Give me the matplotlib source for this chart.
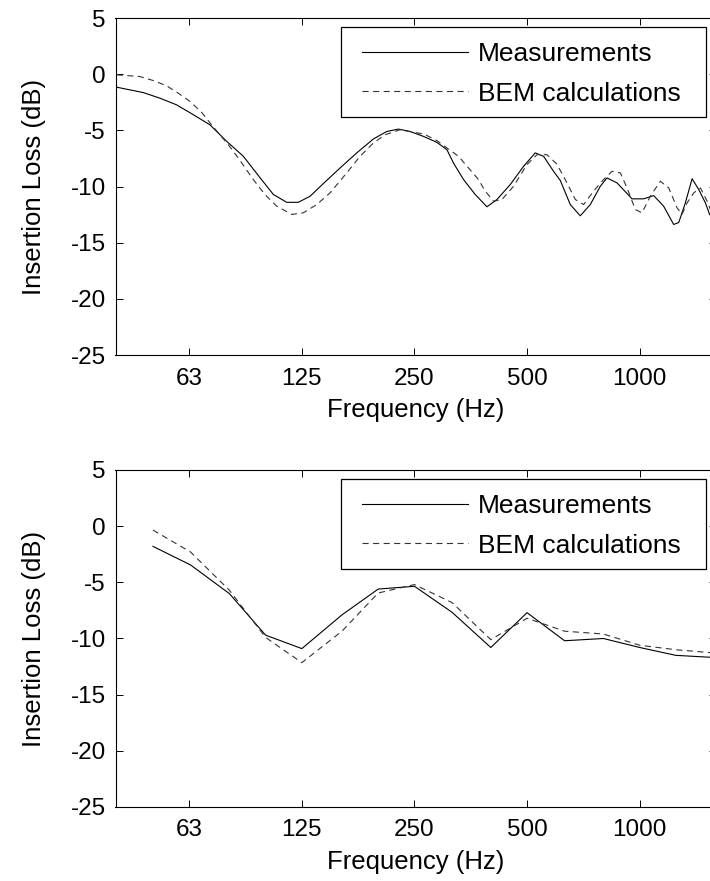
import matplotlib
matplotlib.use('Agg')
import matplotlib.pyplot as plt
from matplotlib.patches import Rectangle
from matplotlib.ticker import FixedLocator, FixedFormatter, NullLocator

plt.rcParams['font.family'] = ['Liberation Sans', 'DejaVu Sans']

# Upper panel: narrow-band results
top_freq_meas = [40, 42.5, 47.1, 52.2, 57.8, 64.1, 71.0, 78.7, 87.2, 96.6,
                 104.9, 113.9, 122.3, 131.5, 142.7, 158.2, 175.3, 194.2, 210.9, 226.5,
                 243.4, 264.3, 287.0, 305.3, 317.9, 338.2, 363.4, 390.6, 415.4, 450.9,
                 489.3, 525.9, 553.5, 588.7, 613.5, 652.5, 693.9, 738.0, 784.9, 817.9,
                 870.0, 954.3, 1025, 1090, 1159, 1233, 1272, 1325, 1381, 1439,
                 1499, 1539, 1600]
top_meas = [-1.15, -1.33, -1.63, -2.13, -2.72, -3.6, -4.5, -5.97, -7.3, -9.2,
            -10.7, -11.4, -11.4, -10.86, -9.73, -8.34, -7.0, -5.76, -5.09, -4.88,
            -5.09, -5.53, -6.06, -6.71, -7.9, -9.37, -10.7, -11.8, -11.15, -9.82,
            -8.2, -7.0, -7.3, -8.64, -9.45, -11.6, -12.6, -11.6, -9.97, -9.23,
            -9.67, -11.09, -11.09, -10.8, -11.74, -13.37, -13.2, -11.45, -9.3, -10.26,
            -11.45, -12.5, -12.8]

top_freq_bem = [40, 46.1, 50.1, 54.4, 58.4, 62.8, 67.5, 71.7, 79.5, 84.5,
                92.7, 99.6, 107.1, 117.5, 126.2, 137.0, 148.7, 164.8, 178.9, 194.2,
                208.7, 228.9, 248.5, 264.3, 287.0, 305.3, 327.9, 348.7, 370.8, 386.5,
                406.8, 428.4, 460.1, 499.7, 531.4, 565.1, 601.0, 639.3, 673.0, 708.1,
                753.1, 801.1, 843.7, 887.9, 925.3, 973.8, 1014.8, 1068, 1136, 1196,
                1259, 1298, 1339, 1395, 1454, 1515, 1546, 1600]
top_bem = [-0.05, -0.2, -0.56, -1.03, -1.68, -2.42, -3.4, -4.5, -6.27, -7.45,
           -9.37, -10.7, -11.74, -12.48, -12.33, -11.6, -10.56, -8.78, -7.3, -6.12,
           -5.38, -4.94, -5.17, -5.3, -5.9, -6.56, -7.3, -8.34, -9.37, -10.4,
           -11.3, -11.15, -9.97, -8.04, -7.16, -7.16, -8.0, -9.67, -11.15, -11.6,
           -10.4, -9.37, -8.64, -8.78, -10.12, -12.04, -12.33, -10.86, -9.52, -10.12,
           -11.89, -12.48, -11.45, -10.56, -10.12, -11.3, -12.04, -12.5]

# Lower panel: third-octave bands
band_freq = [50, 63, 80, 100, 125, 160, 200, 250, 315, 400,
             500, 630, 800, 1000, 1250, 1600]
bottom_meas = [-1.8, -3.45, -6.0, -9.7, -10.9, -7.9, -5.6, -5.35, -7.66, -10.8,
               -7.7, -10.2, -10.0, -10.8, -11.5, -11.7]
bottom_bem = [-0.35, -2.3, -5.7, -9.9, -12.15, -9.35, -5.95, -5.2, -6.8, -10.1,
              -8.2, -9.35, -9.6, -10.6, -11.0, -11.3]

tick_pos = [62.5, 125, 250, 500, 1000]
tick_labels = ['63', '125', '250', '500', '1000']
yticks = [-25, -20, -15, -10, -5, 0, 5]

W, H = 710, 881
fig = plt.figure(figsize=(W / 100, H / 100), dpi=100)
ax1 = fig.add_axes([115.5 / W, 1 - 355.1 / H, 600.5 / W, 337 / H])
ax2 = fig.add_axes([115.5 / W, 1 - 807 / H, 600.5 / W, 337 / H])

panels = [(ax1, top_freq_meas, top_meas, top_freq_bem, top_bem),
          (ax2, band_freq, bottom_meas, band_freq, bottom_bem)]

for ax, fm, vm, fb, vb in panels:
    ax.semilogx(fm, vm, color='black', lw=0.8, label='Measurements')
    ax.semilogx(fb, vb, color='#333333', lw=0.8, linestyle=(0, (5.5, 4)),
                label='BEM calculations')
    ax.set_xlim(39.7, 1600)
    ax.set_ylim(-25, 5)
    ax.xaxis.set_major_locator(FixedLocator(tick_pos))
    ax.xaxis.set_major_formatter(FixedFormatter(tick_labels))
    ax.xaxis.set_minor_locator(NullLocator())
    ax.set_yticks(yticks)
    ax.set_yticklabels([str(v) for v in yticks])
    ax.tick_params(direction='in', length=5, width=0.7, top=True, right=True,
                   labelsize=17.5)
    ax.tick_params(axis='x', pad=9)
    ax.tick_params(axis='y', pad=7)
    for sp in ax.spines.values():
        sp.set_linewidth(0.8)
    ax.set_xlabel('Frequency (Hz)', fontsize=18.5, labelpad=6)
    ax.set_ylabel('Insertion Loss (dB)', fontsize=18.5, labelpad=18)

    # legend box (square, opaque) and its entries
    box = Rectangle((0.375, 0.7056), 0.608, 0.2689, transform=ax.transAxes,
                    facecolor='white', edgecolor='black', lw=0.9,
                    zorder=4, clip_on=False)
    ax.add_patch(box)
    leg = ax.legend(loc='upper left', bbox_to_anchor=(0.4105, 0.928),
                    frameon=False, fontsize=19, handlelength=4.0,
                    handletextpad=0.38, borderpad=0, borderaxespad=0,
                    labelspacing=0.58)
    leg.set_zorder(5)

fig.savefig('out.png', dpi=100)
